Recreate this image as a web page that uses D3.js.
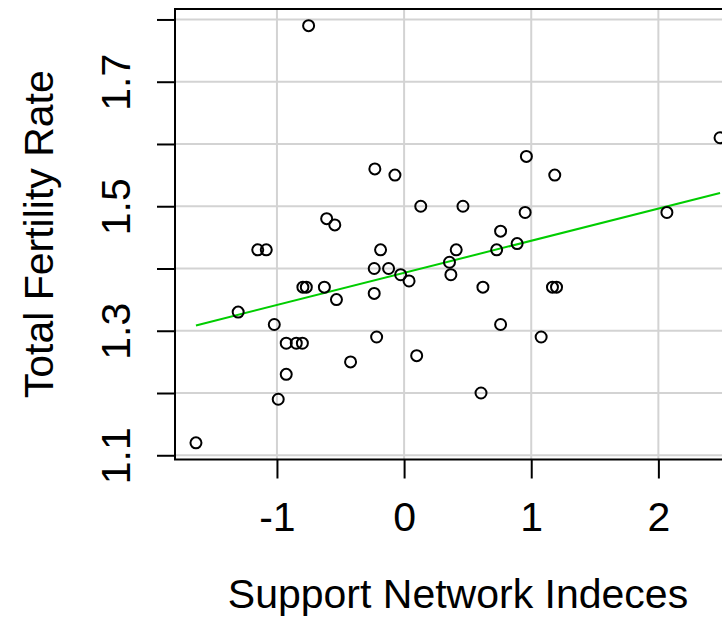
<!DOCTYPE html>
<html>
<head>
<meta charset="utf-8">
<script src="https://cdn.jsdelivr.net/npm/d3@7"></script>
<style>
  html, body { margin: 0; padding: 0; background: #fff; }
  svg { display: block; }
  text { font-family: "Liberation Sans", Arial, sans-serif; fill: #000; }
</style>
</head>
<body>
<svg id="chart" width="722" height="617"></svg>
<script>
// Support network index (x) and total fertility rate (y)
const supportIndex = [
  -0.751, -0.230, -0.072, 0.131, -0.609, -0.545, -1.151, -1.084, -0.185, -1.637,
  -1.305, -1.021, -0.990, -0.927, -0.927, -0.848, -0.800, -0.796, -0.769, -0.627,
  -0.532, -0.421, -0.235, -0.235, -0.216, -0.122, -0.027, 0.039, 0.099, 0.357,
  0.368, 0.410, 0.463, 0.962, 1.185, 0.952, 0.759, 0.728, 0.889, 0.620,
  1.167, 1.199, 0.759, 1.078, 0.605, 2.067, 2.485
];
const fertilityRate = [
  1.79, 1.56, 1.55, 1.50, 1.48, 1.47, 1.43, 1.43, 1.43, 1.12,
  1.33, 1.31, 1.19, 1.28, 1.23, 1.28, 1.28, 1.37, 1.37, 1.37,
  1.35, 1.25, 1.40, 1.36, 1.29, 1.40, 1.39, 1.38, 1.26, 1.41,
  1.39, 1.43, 1.50, 1.58, 1.55, 1.49, 1.46, 1.43, 1.44, 1.37,
  1.37, 1.37, 1.31, 1.29, 1.20, 1.49, 1.61
];
// fitted line: intercept, slope
const fitCoef = [1.393, 0.0516];
const xTicks = [-1, 0, 1, 2];
const xTickLabels = ["-1", "0", "1", "2"];
const yTicks = [1.1, 1.2, 1.3, 1.4, 1.5, 1.6, 1.7, 1.8];
const yTickLabels = ["1.1", "", "1.3", "", "1.5", "", "1.7", ""];
const xTitle = "Support Network Indeces";
const yTitle = "Total Fertility Rate";

const points = supportIndex.map((x, i) => ({ x, y: fertilityRate[i] }));

const svg = d3.select("#chart");
const box = { left: 175, right: 741, top: 9, bottom: 459.5 };
const fontSize = 41;

function padded(ext) {
  const r = ext[1] - ext[0];
  return [ext[0] - 0.04 * r, ext[1] + 0.04 * r];
}
const x = d3.scaleLinear().domain(padded(d3.extent(supportIndex))).range([box.left, box.right]);
const y = d3.scaleLinear().domain(padded(d3.extent(fertilityRate))).range([box.bottom, box.top]);

// grid
const grid = svg.append("g").attr("stroke", "#d3d3d3").attr("stroke-width", 2);
grid.selectAll("line.v").data(xTicks).join("line")
  .attr("x1", d => x(d)).attr("x2", d => x(d))
  .attr("y1", box.top).attr("y2", box.bottom);
grid.selectAll("line.h").data(yTicks).join("line")
  .attr("x1", box.left).attr("x2", box.right)
  .attr("y1", d => y(d)).attr("y2", d => y(d));

// fitted line
const xr = d3.extent(supportIndex);
svg.append("path")
  .datum(xr.map(v => ({ x: v, y: fitCoef[0] + fitCoef[1] * v })))
  .attr("fill", "none").attr("stroke", "#00cd00").attr("stroke-width", 2)
  .attr("d", d3.line().x(d => x(d.x)).y(d => y(d.y)));

// points
svg.append("g").selectAll("circle").data(points).join("circle")
  .attr("cx", d => x(d.x)).attr("cy", d => y(d.y)).attr("r", 5.5)
  .attr("fill", "none").attr("stroke", "#000").attr("stroke-width", 2);

// box
svg.append("rect")
  .attr("x", box.left).attr("y", box.top)
  .attr("width", box.right - box.left).attr("height", box.bottom - box.top)
  .attr("fill", "none").attr("stroke", "#000").attr("stroke-width", 2);

// x axis
const xAxis = d3.axisBottom(x).tickValues(xTicks)
  .tickFormat((d, i) => xTickLabels[i]).tickSize(19);
const gx = svg.append("g").attr("transform", `translate(0,${box.bottom})`).call(xAxis);
gx.select(".domain").remove();
gx.selectAll(".tick line").attr("stroke", "#000").attr("stroke-width", 2);
gx.selectAll(".tick text")
  .attr("y", 531 - box.bottom).attr("dy", null)
  .attr("font-size", fontSize)
  .attr("font-family", "Liberation Sans, Arial, sans-serif");

// y axis
const yAxis = d3.axisLeft(y).tickValues(yTicks)
  .tickFormat((d, i) => yTickLabels[i]).tickSize(18);
const gy = svg.append("g").attr("transform", `translate(${box.left},0)`).call(yAxis);
gy.select(".domain").remove();
gy.selectAll(".tick line").attr("stroke", "#000").attr("stroke-width", 2);
gy.selectAll(".tick text")
  .attr("x", null).attr("dy", null)
  .attr("text-anchor", "middle")
  .attr("font-size", fontSize)
  .attr("font-family", "Liberation Sans, Arial, sans-serif")
  .attr("transform", `translate(${130 - box.left},0) rotate(-90)`);

// titles
svg.append("text")
  .attr("x", (box.left + box.right) / 2).attr("y", 608)
  .attr("text-anchor", "middle").attr("font-size", fontSize)
  .text(xTitle);
svg.append("text")
  .attr("transform", `translate(53,${(box.top + box.bottom) / 2}) rotate(-90)`)
  .attr("text-anchor", "middle").attr("font-size", fontSize)
  .text(yTitle);
</script>
</body>
</html>
